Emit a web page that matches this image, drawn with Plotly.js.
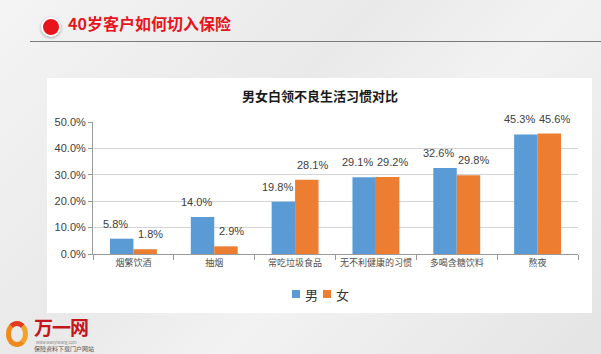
<!DOCTYPE html>
<html>
<head>
<meta charset="utf-8">
<script src="https://cdn.plot.ly/plotly-3.0.1.min.js"></script>
<style>
  html, body { margin:0; padding:0; }
  body { width:601px; height:354px; position:relative; overflow:hidden;
         background: linear-gradient(135deg, #f4f4f4 0%, #e9e9e9 40%, #f2f2f2 60%, #e4e4e4 100%);
         font-family: "Noto Sans CJK SC", "Noto Sans", sans-serif; }
  #panel { position:absolute; left:47px; top:78px; width:545px; height:235px; background:#fff; }
  #dot { position:absolute; left:41px; top:17px; width:16px; height:16px; border-radius:50%;
         background:#e8141b; border:2px solid #fff; box-shadow:0 1px 3px rgba(0,0,0,0.35); }
  #title { position:absolute; left:68px; top:12px; font-size:16px; line-height:22px; font-weight:bold; color:#e8141b; }
  #rule { position:absolute; left:30px; top:41px; width:571px; height:1px; background:#7a7a7a; }
  #chart { position:absolute; left:0; top:0; width:601px; height:354px; }
  #logo { position:absolute; left:6px; top:315px; width:100px; height:39px; }
  #logo div { line-height:1; white-space:nowrap; position:absolute; }
  #logo .big { left:28px; top:2px; font-size:19px; font-weight:bold; color:#c4161c; letter-spacing:-1px; }
  #logo .url { left:30px; top:25px; font-size:4px; color:#888; }
  #logo .sub { left:28px; top:31px; font-size:6px; color:#555; }
  #logo .heart { left:0px; top:6px; width:22px; height:26px; border-radius:50%;
                 border:5px solid #f08a1c; border-top-color:#e23a1c; border-right-color:#f3a32a; box-sizing:border-box; }
</style>
</head>
<body>
<div id="panel"></div>
<div id="dot"></div>
<div id="title">40岁客户如何切入保险</div>
<div id="rule"></div>
<div id="logo"><div class="heart"></div><div class="big">万一网</div><div class="url">www.wanyiwang.com</div><div class="sub">保险资料下载门户网站</div></div>
<div id="chart"></div>
<script>
const categories = ["烟繁饮酒", "抽烟", "常吃垃圾食品", "无不利健康的习惯", "多喝含糖饮料", "熬夜"];
const maleValues = [5.8, 14.0, 19.8, 29.1, 32.6, 45.3];
const femaleValues = [1.8, 2.9, 28.1, 29.2, 29.8, 45.6];
const seriesNames = ["男", "女"];
const seriesColors = ["#5B9BD5", "#ED7D31"];
const chartTitle = "男女白领不良生活习惯对比";

const labelFont = {family: "Liberation Sans, Arial, sans-serif", size: 11, color: "#404040"};

const traces = [
  {type: "bar", name: seriesNames[0], x: categories, y: maleValues,
   marker: {color: seriesColors[0]}, hoverinfo: "none"},
  {type: "bar", name: seriesNames[1], x: categories, y: femaleValues,
   marker: {color: seriesColors[1]}, hoverinfo: "none"}
];

function labels(vals, shift) {
  return categories.map((c, i) => ({
    x: c, y: vals[i], xref: "x", yref: "y", text: vals[i].toFixed(1) + "%",
    showarrow: false, xanchor: "center", yanchor: "bottom", xshift: shift, yshift: 7,
    font: labelFont
  }));
}

const H = 354, W = 601;
const M = {l: 93, r: 23, t: 122, b: 100};
const PW = W - M.l - M.r, PH = H - M.t - M.b;
const px = v => (v - M.l) / PW;          // pixel x -> paper
const py = v => (H - M.b - v) / PH;      // pixel y -> paper

// hand-drawn legend (compact, like the reference)
const legendX = [292, 323];
const legendShapes = seriesNames.map((n, i) => ({
  type: "rect", xref: "paper", yref: "paper",
  x0: px(legendX[i]), x1: px(legendX[i] + 8), y0: py(298), y1: py(290),
  fillcolor: seriesColors[i], line: {width: 0}
}));
const legendText = seriesNames.map((n, i) => ({
  xref: "paper", yref: "paper", x: px(legendX[i] + 11), y: py(294.5),
  xanchor: "left", yanchor: "middle", showarrow: false, text: n,
  font: {size: 13, color: "#333", family: "Noto Sans CJK SC, sans-serif"}
}));

const layout = {
  width: W, height: H, margin: M,
  paper_bgcolor: "rgba(0,0,0,0)", plot_bgcolor: "rgba(0,0,0,0)",
  font: {family: "Noto Sans CJK SC, sans-serif", color: "#404040"},
  title: {text: "<b>" + chartTitle + "</b>", font: {size: 13, color: "#1a1a1a", family: "Noto Sans CJK SC, sans-serif"},
          x: 320 / W, xref: "container", xanchor: "center", y: 1 - 96 / H, yref: "container", yanchor: "middle"},
  barmode: "group", bargap: 0.42, bargroupgap: 0,
  annotations: labels(maleValues, -18).concat(labels(femaleValues, 17)).concat(legendText),
  shapes: legendShapes,
  xaxis: {type: "category", showgrid: false, showline: true, linecolor: "#9a9a9a", linewidth: 1,
          ticks: "outside", tickson: "boundaries", ticklen: 5, tickcolor: "#9a9a9a", tickangle: 0,
          tickfont: {size: 9, color: "#505050", family: "Noto Sans CJK SC, sans-serif"}, fixedrange: true},
  yaxis: {range: [0, 50], dtick: 10, tickformat: ".1f", ticksuffix: "%",
          showgrid: true, gridcolor: "#d4d4d4", gridwidth: 1, zeroline: false,
          showline: true, linecolor: "#9a9a9a", ticks: "outside", ticklen: 4, tickcolor: "#9a9a9a",
          tickfont: {size: 11, color: "#404040", family: "Liberation Sans, Arial, sans-serif"}, fixedrange: true},
  showlegend: false
};

Plotly.newPlot("chart", traces, layout, {displayModeBar: false, staticPlot: true});
</script>
</body>
</html>
